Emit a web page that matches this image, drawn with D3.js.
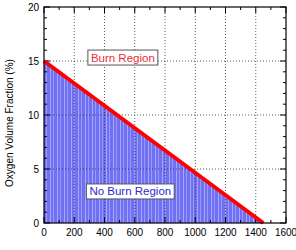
<!DOCTYPE html>
<html><head><meta charset="utf-8">
<script src="https://cdn.jsdelivr.net/npm/d3@7"></script>
<style>body{margin:0;background:#fff}svg{display:block}text{font-family:"Liberation Sans",Arial,sans-serif}</style>
</head><body><svg id="c" width="296" height="250"></svg>
<script>
const boundaryX = [0, 1450];
const boundaryY = [15, 0];
const xTicks = [0,200,400,600,800,1000,1200,1400,1600];
const yTicks = [0,5,10,15,20];
const xMinor = d3.range(0,1601,100);
const yMinor = d3.range(0,21,1);
const labels = [{text:"Burn Region", x:310, y:14.95, color:"#e8303a"},{text:"No Burn Region", x:300, y:2.55, color:"#2a2ad0"}];

const svg = d3.select("#c");
const L=44,R=286,T=7,B=223;
const x = d3.scaleLinear().domain([0,1600]).range([L,R]);
const y = d3.scaleLinear().domain([0,20]).range([B,T]);

const defs = svg.append("defs");
const pat = defs.append("pattern").attr("id","hatch").attr("patternUnits","userSpaceOnUse").attr("width",7).attr("height",10);
pat.append("rect").attr("width",7).attr("height",10).attr("fill","#7070f2");
pat.append("rect").attr("x",1).attr("width",1).attr("height",10).attr("fill","#a8a8ff");
pat.append("rect").attr("x",4).attr("width",1).attr("height",10).attr("fill","#9a9afc");

const pts = boundaryX.map((d,i)=>[d,boundaryY[i]]);
const area = d3.area().x(d=>x(d[0])).y0(y(0)).y1(d=>y(d[1]));
svg.append("path").datum(pts).attr("d",area).attr("fill","url(#hatch)");

// grid
svg.append("g").selectAll("line").data(xTicks.filter(d=>d>0&&d<1600)).join("line")
 .attr("x1",d=>x(d)).attr("x2",d=>x(d)).attr("y1",T).attr("y2",B)
 .attr("stroke","#333").attr("stroke-width",0.8).attr("stroke-dasharray","1,2");
svg.append("g").selectAll("line").data(yTicks.filter(d=>d>0&&d<20)).join("line")
 .attr("y1",d=>y(d)).attr("y2",d=>y(d)).attr("x1",L).attr("x2",R)
 .attr("stroke","#333").attr("stroke-width",0.8).attr("stroke-dasharray","1,2");

// ticks
const tk = svg.append("g").attr("stroke","#000").attr("stroke-width",1);
xMinor.forEach(v=>{const len = v%200===0?6:3;
 tk.append("line").attr("x1",x(v)).attr("x2",x(v)).attr("y1",B).attr("y2",B-len);
 tk.append("line").attr("x1",x(v)).attr("x2",x(v)).attr("y1",T).attr("y2",T+len);});
yMinor.forEach(v=>{const len = v%5===0?6:3;
 tk.append("line").attr("y1",y(v)).attr("y2",y(v)).attr("x1",L).attr("x2",L+len);
 tk.append("line").attr("y1",y(v)).attr("y2",y(v)).attr("x1",R).attr("x2",R-len);});

// boundary line
svg.append("path").datum(pts).attr("d",d3.line().x(d=>x(d[0])).y(d=>y(d[1])))
 .attr("fill","none").attr("stroke","#ff0000").attr("stroke-width",4);

svg.append("rect").attr("x",L).attr("y",T).attr("width",R-L).attr("height",B-T)
 .attr("fill","none").attr("stroke","#000").attr("stroke-width",1.2);

// tick labels
svg.append("g").selectAll("text").data(xTicks).join("text")
 .attr("x",d=>x(d)).attr("y",B+13).attr("text-anchor","middle").attr("font-size",10).text(d=>d);
svg.append("g").selectAll("text").data(yTicks).join("text")
 .attr("x",L-5).attr("y",d=>y(d)+3.5).attr("text-anchor","end").attr("font-size",10).text(d=>d);

svg.append("text").attr("transform",`translate(13,${(T+B)/2+8}) rotate(-90)`).attr("text-anchor","middle")
 .attr("font-size",10).text("Oxygen Volume Fraction (%)");

labels.forEach(lb=>{
 const g = svg.append("g");
 const t = g.append("text").attr("x",x(lb.x)).attr("y",y(lb.y)).attr("text-anchor","start")
  .attr("font-size",11.5).attr("fill",lb.color).text(lb.text);
 const bb = t.node().getBBox();
 g.insert("rect","text").attr("x",bb.x-3).attr("y",bb.y-1.5).attr("width",bb.width+6).attr("height",bb.height+3)
  .attr("fill","#fff").attr("stroke","#555").attr("stroke-width",1);
});
</script></body></html>
